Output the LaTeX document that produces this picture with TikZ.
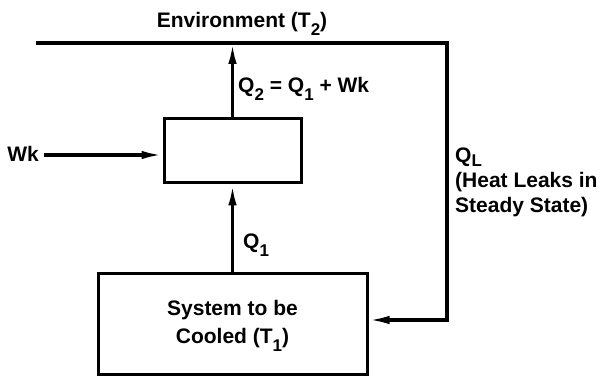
\documentclass[tikz,border=0pt]{standalone}
\usepackage{fontspec}
\setmainfont{Liberation Sans}
\usetikzlibrary{arrows.meta}
\newcommand{\lowidx}[2][8pt]{\raisebox{-#1}[0pt][0pt]{\fontsize{17}{17}\selectfont #2}}

\begin{document}
\begin{tikzpicture}[x=1pt, y=1pt, >={Latex[length=21pt,width=8.5pt]},
    box/.style={draw, line width=3pt, inner sep=0pt},
    flow/.style={->, line width=3.2pt},
    tag/.style={inner sep=0pt},
    font=\fontsize{21}{28}\selectfont\bfseries]
    \useasboundingbox (0,0) rectangle (600,377);

    % Environment boundary
    \coordinate (envL) at (36,334);
    \coordinate (envR) at (447,334);
    \coordinate (leak) at (447,57);
    \node[tag, anchor=base] (env) at (242,349) {Environment (T\lowidx{2})};

    % Boxes
    \node[box, minimum width=137pt, minimum height=64pt] (pump) at (232.5,226) {};
    \node[box, minimum width=269pt, minimum height=101pt, align=center] (sys) at (232.5,52.5)
        {System to be\\Cooled (T\lowidx{1})};

    % Work input
    \node[tag, inner sep=5pt] (wk) at (23,223) {Wk};
    \draw[flow] (wk.east |- 0,222) -- (pump.west |- 0,222);

    % Heat flows
    \draw[flow] (sys) -- (pump);
    \draw[flow] (pump) -- (pump |- envL);
    \draw[flow] (envL) -- (envR) -- (leak) -- (sys.east |- leak);

    % Labels
    \node[tag, anchor=base west] (q2) at (238,284) {Q\lowidx{2} = Q\lowidx{1} + Wk};
    \node[tag, anchor=base west] (q1) at (243,128) {Q\lowidx{1}};
    \node[tag, anchor=base west, align=left, font=\fontsize{21}{25}\selectfont\bfseries] (ql) at (455,164)
        {Q\lowidx[4pt]{L}\\(Heat Leaks in\\Steady State)};
\end{tikzpicture}
\end{document}
